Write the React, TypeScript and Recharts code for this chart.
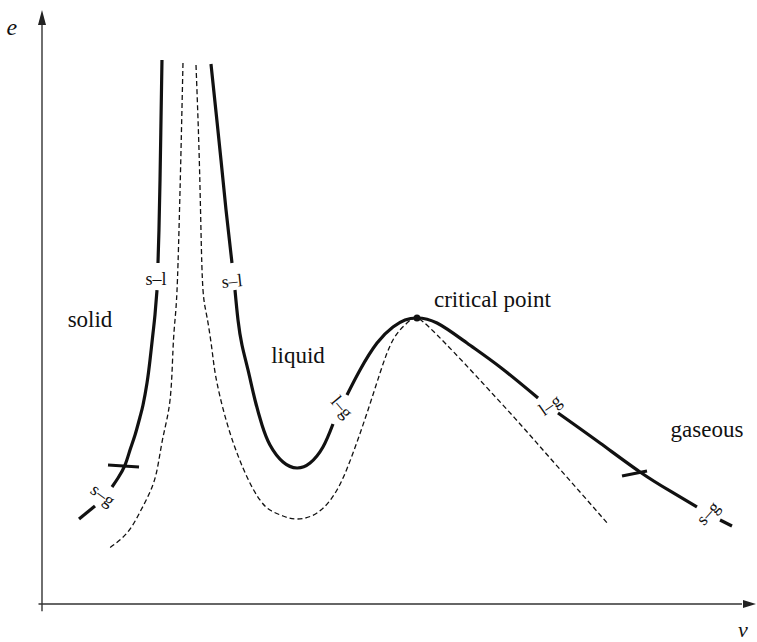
import { ComposedChart, Line, XAxis, YAxis, ReferenceDot } from 'recharts';

type Pt = { v: number; e: number };

// solid (phase boundary) curves, split where the little labels sit
const solidLeftTop: Pt[] = [
  { v: 1.714, e: 9.891 }, { v: 1.7, e: 8.8 }, { v: 1.686, e: 7.709 },
  { v: 1.671, e: 6.8 }, { v: 1.657, e: 6.2 },
];
const solidLeftBottom: Pt[] = [
  { v: 1.643, e: 5.709 }, { v: 1.614, e: 5.255 }, { v: 1.586, e: 4.927 },
  { v: 1.543, e: 4.436 }, { v: 1.5, e: 4.018 }, { v: 1.443, e: 3.618 },
  { v: 1.4, e: 3.4 }, { v: 1.329, e: 3.073 }, { v: 1.257, e: 2.8 },
  { v: 1.186, e: 2.527 }, { v: 1.086, e: 2.291 }, { v: 1.0, e: 2.127 },
];
const solidLeftStub: Pt[] = [{ v: 0.757, e: 1.782 }, { v: 0.529, e: 1.545 }];

const solidRightTop: Pt[] = [
  { v: 2.414, e: 9.818 }, { v: 2.486, e: 8.945 }, { v: 2.557, e: 8.073 },
  { v: 2.629, e: 7.164 }, { v: 2.714, e: 6.2 },
];
const solidValley: Pt[] = [
  { v: 2.757, e: 5.709 }, { v: 2.8, e: 5.164 }, { v: 2.857, e: 4.709 },
  { v: 2.943, e: 4.255 }, { v: 3.043, e: 3.709 }, { v: 3.143, e: 3.255 },
  { v: 3.257, e: 2.891 }, { v: 3.443, e: 2.582 }, { v: 3.643, e: 2.473 },
  { v: 3.829, e: 2.564 }, { v: 4.014, e: 2.855 }, { v: 4.157, e: 3.273 },
];
const solidPeak: Pt[] = [
  { v: 4.357, e: 3.8 }, { v: 4.543, e: 4.255 }, { v: 4.786, e: 4.745 },
  { v: 5.014, e: 5.036 }, { v: 5.186, e: 5.164 }, { v: 5.357, e: 5.2 },
  { v: 5.643, e: 5.109 }, { v: 6.071, e: 4.745 }, { v: 6.543, e: 4.309 },
  { v: 7.086, e: 3.745 },
];
const solidGas: Pt[] = [
  { v: 7.371, e: 3.473 }, { v: 7.971, e: 2.927 }, { v: 8.543, e: 2.4 },
  { v: 8.971, e: 2.055 }, { v: 9.357, e: 1.764 },
];
const solidGasStub: Pt[] = [{ v: 9.686, e: 1.527 }, { v: 9.857, e: 1.418 }];

// triple-line crossings
const tickLeft: Pt[] = [{ v: 0.943, e: 2.527 }, { v: 1.386, e: 2.491 }];
const tickRight: Pt[] = [{ v: 8.286, e: 2.327 }, { v: 8.643, e: 2.418 }];

// dashed curves
const dashedLeft: Pt[] = [
  { v: 2.014, e: 9.836 }, { v: 1.986, e: 8.255 }, { v: 1.957, e: 6.8 },
  { v: 1.929, e: 5.709 }, { v: 1.9, e: 5.164 }, { v: 1.871, e: 4.618 },
  { v: 1.829, e: 3.709 }, { v: 1.729, e: 3.036 }, { v: 1.643, e: 2.436 },
  { v: 1.543, e: 2.036 }, { v: 1.4, e: 1.673 }, { v: 1.214, e: 1.291 },
  { v: 0.943, e: 1.0 },
];
const dashedRight: Pt[] = [
  { v: 2.2, e: 9.8 }, { v: 2.243, e: 8.255 }, { v: 2.271, e: 6.8 },
  { v: 2.3, e: 5.709 }, { v: 2.357, e: 5.218 }, { v: 2.429, e: 4.618 },
  { v: 2.5, e: 4.018 }, { v: 2.686, e: 3.109 }, { v: 2.929, e: 2.309 },
  { v: 3.114, e: 1.891 }, { v: 3.257, e: 1.709 }, { v: 3.443, e: 1.6 },
  { v: 3.643, e: 1.545 }, { v: 3.929, e: 1.655 }, { v: 4.214, e: 2.073 },
  { v: 4.443, e: 2.745 }, { v: 4.643, e: 3.473 }, { v: 4.829, e: 4.2 },
  { v: 5.014, e: 4.8 }, { v: 5.214, e: 5.109 }, { v: 5.357, e: 5.2 },
  { v: 5.543, e: 5.018 }, { v: 5.757, e: 4.745 }, { v: 6.043, e: 4.364 },
  { v: 6.4, e: 3.873 }, { v: 6.829, e: 3.273 }, { v: 7.257, e: 2.655 },
  { v: 7.686, e: 2.036 }, { v: 8.086, e: 1.455 },
];

const criticalPoint: Pt = { v: 5.357, e: 5.2 };

// axes
const yAxisLine: Pt[] = [{ v: 0, e: -0.13 }, { v: 0, e: 10.6 }];
const xAxisLine: Pt[] = [{ v: -0.05, e: 0 }, { v: 10.0, e: 0 }];

const regionLabels = [
  { text: 'solid', v: 0.686, e: 5.036 },
  { text: 'liquid', v: 3.657, e: 4.382 },
  { text: 'gaseous', v: 9.5, e: 3.036 },
];
const boundaryLabels = [
  { text: 's–l', v: 1.629, e: 5.909, angle: 0 },
  { text: 's–l', v: 2.714, e: 5.873, angle: -6 },
  { text: 'l–g', v: 4.286, e: 3.582, angle: 50 },
  { text: 'l–g', v: 7.257, e: 3.618, angle: -35 },
  { text: 's–g', v: 0.871, e: 1.982, angle: 37 },
  { text: 's–g', v: 9.514, e: 1.655, angle: -48 },
];

const FONT = "'Liberation Serif', 'DejaVu Serif', serif";
const INK = '#111';

export default function App() {
  const solid = (data: Pt[], key: string) => (
    <Line key={key} data={data} dataKey="e" type="natural" stroke={INK} strokeWidth={3.2}
      dot={false} activeDot={false} isAnimationActive={false} />
  );
  const dashed = (data: Pt[], key: string) => (
    <Line key={key} data={data} dataKey="e" type="natural" stroke={INK} strokeWidth={1.3}
      strokeDasharray="5 3" dot={false} activeDot={false} isAnimationActive={false} />
  );
  const txt = { fontFamily: FONT, fill: INK };

  return (
    <div style={{ position: 'absolute', left: 0, top: 0, background: '#fff' }}>
      <ComposedChart width={757} height={642} margin={{ top: 10, right: 1, bottom: 27, left: 35 }}>
        <XAxis dataKey="v" type="number" domain={[-0.1, 10.2]} hide />
        <YAxis type="number" domain={[-0.2, 10.8]} hide />

        <Line data={yAxisLine} dataKey="e" type="linear" stroke="#333" strokeWidth={1.4}
          dot={false} activeDot={false} isAnimationActive={false} />
        <Line data={xAxisLine} dataKey="e" type="linear" stroke="#333" strokeWidth={1.6}
          dot={false} activeDot={false} isAnimationActive={false} />

        {solid(solidLeftTop, 'a1')}
        {solid(solidLeftBottom, 'a2')}
        {solid(solidLeftStub, 'a3')}
        {solid(solidRightTop, 'b1')}
        {solid(solidValley, 'b2')}
        {solid(solidPeak, 'b3')}
        {solid(solidGas, 'b4')}
        {solid(solidGasStub, 'b5')}
        {solid(tickLeft, 't1')}
        {solid(tickRight, 't2')}
        {dashed(dashedLeft, 'd1')}
        {dashed(dashedRight, 'd2')}

        <ReferenceDot x={criticalPoint.v} y={criticalPoint.e} r={3.5} fill={INK} stroke="none" ifOverflow="visible" />

        <ReferenceDot x={0} y={10.8} ifOverflow="visible"
          shape={(p: any) => (
            <polygon points={`${p.cx},${p.cy} ${p.cx - 4},${p.cy + 15} ${p.cx + 4},${p.cy + 15}`} fill="#222" />
          )} />
        <ReferenceDot x={10.2} y={0} ifOverflow="visible"
          shape={(p: any) => (
            <polygon points={`${p.cx},${p.cy} ${p.cx - 13},${p.cy - 4} ${p.cx - 13},${p.cy + 4}`} fill="#222" />
          )} />

        {regionLabels.map((l, i) => (
          <ReferenceDot key={`r${i}`} x={l.v} y={l.e} ifOverflow="visible"
            shape={(p: any) => (
              <text x={p.cx} y={p.cy} textAnchor="middle" style={{ ...txt, fontSize: 23 }}>{l.text}</text>
            )} />
        ))}
        <ReferenceDot x={5.6} y={5.4} ifOverflow="visible"
          shape={(p: any) => (
            <text x={p.cx} y={p.cy} textAnchor="start" style={{ ...txt, fontSize: 23 }}>critical point</text>
          )} />

        {boundaryLabels.map((l, i) => (
          <ReferenceDot key={`b${i}`} x={l.v} y={l.e} ifOverflow="visible"
            shape={(p: any) => (
              <text x={p.cx} y={p.cy} textAnchor="middle" dominantBaseline="central"
                style={{ ...txt, fontSize: 18 }} transform={`rotate(${l.angle} ${p.cx} ${p.cy})`}>{l.text}</text>
            )} />
        ))}

        <ReferenceDot x={-0.43} y={10.345} ifOverflow="visible"
          shape={(p: any) => (
            <text x={p.cx} y={p.cy} textAnchor="middle" style={{ ...txt, fontSize: 24, fontStyle: 'italic' }}>e</text>
          )} />
        <ReferenceDot x={10.014} y={-0.6} ifOverflow="visible"
          shape={(p: any) => (
            <text x={p.cx} y={p.cy} textAnchor="middle" style={{ ...txt, fontSize: 22, fontStyle: 'italic' }}>ν</text>
          )} />
      </ComposedChart>
    </div>
  );
}
